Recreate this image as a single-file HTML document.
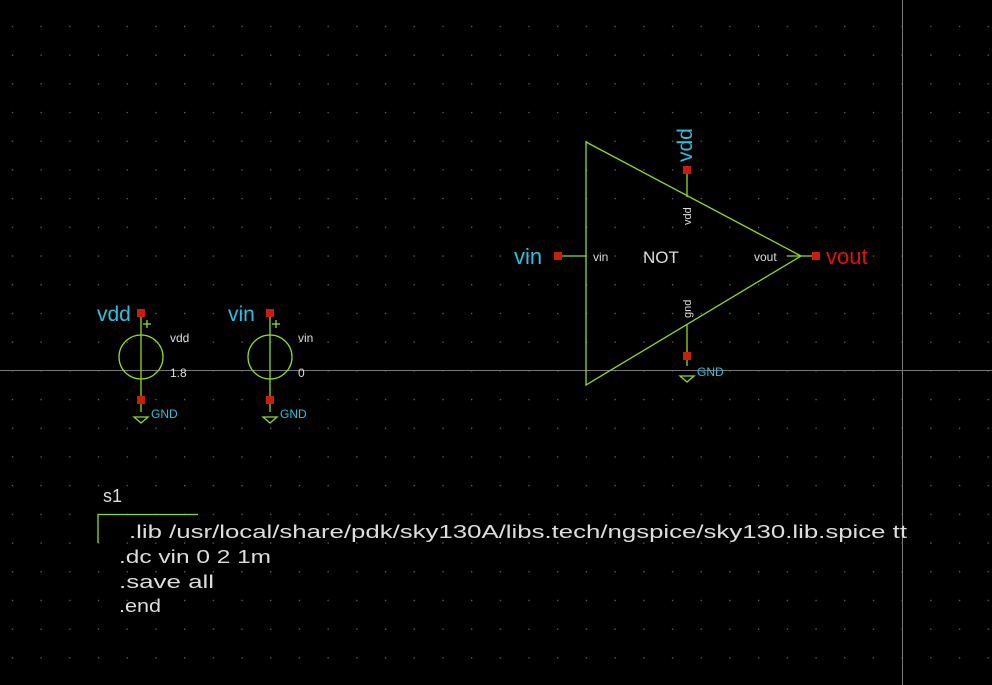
<!DOCTYPE html>
<html><head><meta charset="utf-8"><style>
html,body{margin:0;padding:0;background:#000;width:992px;height:685px;overflow:hidden}
svg{display:block}
text{font-family:"Liberation Sans",sans-serif}
</style></head><body>
<svg width="992" height="685" viewBox="0 0 992 685">
<defs><pattern id="grid" x="11.3" y="25.3" width="28.7" height="28.7" patternUnits="userSpaceOnUse"><rect x="0.5" y="0.5" width="1.3" height="1.3" fill="#666"/></pattern></defs>
<rect width="992" height="685" fill="#000"/>
<rect width="992" height="685" fill="url(#grid)"/>
<line x1="0" y1="370.5" x2="992" y2="370.5" stroke="#777" stroke-width="1"/>
<line x1="902.5" y1="0" x2="902.5" y2="685" stroke="#777" stroke-width="1"/>

<g stroke="#8fdc1e" stroke-width="1.3" fill="none">
<polygon points="586,142 586,385 801,256"/>
<line x1="558" y1="256" x2="586" y2="256"/>
<line x1="787" y1="256" x2="816" y2="256"/>
<line x1="687" y1="170" x2="687" y2="197"/>
<line x1="687" y1="325" x2="687" y2="366"/>
<polygon points="680,376 694,376 687,382"/>
</g>
<g fill="#c81e0a">
<rect x="554" y="252" width="8" height="8"/>
<rect x="812" y="252" width="8" height="8"/>
<rect x="683" y="166" width="8" height="8"/>
<rect x="683" y="352" width="8" height="8"/>
</g>
<text x="514" y="264" font-size="22" fill="#2bc0e0">vin</text>
<text x="826" y="264" font-size="22" fill="#e01010">vout</text>
<text transform="translate(692,162) rotate(-90)" font-size="21" fill="#2bc0e0">vdd</text>
<text x="697" y="376" font-size="12" fill="#2bc0e0">GND</text>
<text x="593" y="261" font-size="12" fill="#ddd">vin</text>
<text x="754" y="261" font-size="12" fill="#ddd">vout</text>
<text x="643" y="263" font-size="17" fill="#ddd">NOT</text>
<text transform="translate(691,225) rotate(-90)" font-size="11" fill="#ddd">vdd</text>
<text transform="translate(691,318) rotate(-90)" font-size="11" fill="#ddd">gnd</text>

<g>
<g stroke="#8fdc1e" stroke-width="1.3" fill="none">
<circle cx="141" cy="357" r="22"/>
<line x1="141" y1="313" x2="141" y2="412"/>
<line x1="143" y1="324" x2="151" y2="324"/><line x1="147" y1="320" x2="147" y2="328"/>
<polygon points="134,417 148,417 141,423"/>
</g>
<rect x="137" y="309" width="8" height="8" fill="#c81e0a"/>
<rect x="137" y="396" width="8" height="8" fill="#c81e0a"/>
<text x="97" y="321" font-size="21" fill="#2bc0e0">vdd</text>
<text x="170" y="342" font-size="12" fill="#ddd">vdd</text>
<text x="170" y="377" font-size="12" fill="#ddd">1.8</text>
<text x="151" y="418" font-size="12" fill="#2bc0e0">GND</text>
</g>
<g>
<g stroke="#8fdc1e" stroke-width="1.3" fill="none">
<circle cx="270" cy="357" r="22"/>
<line x1="270" y1="313" x2="270" y2="412"/>
<line x1="272" y1="324" x2="280" y2="324"/><line x1="276" y1="320" x2="276" y2="328"/>
<polygon points="263,417 277,417 270,423"/>
</g>
<rect x="266" y="309" width="8" height="8" fill="#c81e0a"/>
<rect x="266" y="396" width="8" height="8" fill="#c81e0a"/>
<text x="228" y="321" font-size="21" fill="#2bc0e0">vin</text>
<text x="298" y="342" font-size="12" fill="#ddd">vin</text>
<text x="298" y="377" font-size="12" fill="#ddd">0</text>
<text x="280" y="418" font-size="12" fill="#2bc0e0">GND</text>
</g>

<g>
<text x="103" y="502" font-size="18" fill="#ddd">s1</text>
<polyline points="98,543 98,514.5 198,514.5" stroke="#8fdc1e" stroke-width="1.3" fill="none"/>
<g font-size="18" fill="#ddd">
<text x="129" y="538" textLength="778" lengthAdjust="spacingAndGlyphs">.lib /usr/local/share/pdk/sky130A/libs.tech/ngspice/sky130.lib.spice tt</text>
<text x="119" y="563" textLength="152" lengthAdjust="spacingAndGlyphs">.dc vin 0 2 1m</text>
<text x="119" y="588" textLength="95" lengthAdjust="spacingAndGlyphs">.save all</text>
<text x="119" y="612" textLength="42" lengthAdjust="spacingAndGlyphs">.end</text>
</g>
</g>
</svg>
</body></html>
